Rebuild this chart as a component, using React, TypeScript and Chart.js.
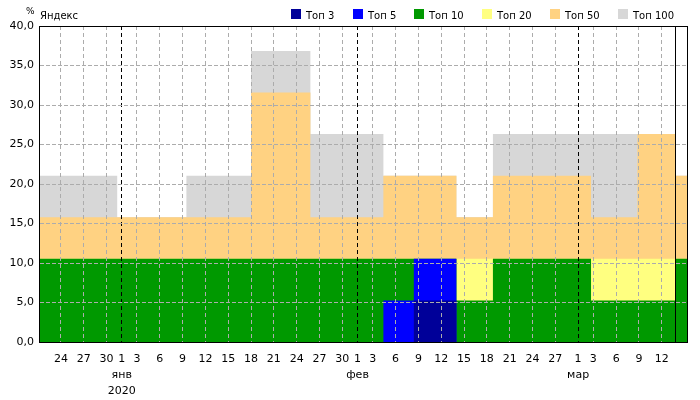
import React, { useEffect, useRef } from "react";
import { Chart, registerables } from "chart.js";

Chart.register(...registerables);

const FONT = "'DejaVu Sans', Verdana, sans-serif";

// ---- data -------------------------------------------------------------
const seriesNames = ["Топ 3", "Топ 5", "Топ 10", "Топ 20", "Топ 50", "Топ 100"];
const seriesColors = ["#000099", "#0000ff", "#009900", "#ffff80", "#ffd282", "#d7d7d7"];

// period boundaries, in days from 1 Jan 2020
const periodBounds = [-10.75, -0.6, 8.5, 17.0, 24.8, 34.4, 38.4, 44.0, 48.8, 61.7, 67.8, 72.8, 74.45];

// cumulative share of queries (%) per period
const top3 = [0, 0, 0, 0, 0, 0, 5.26, 0, 0, 0, 0, 0];
const top5 = [0, 0, 0, 0, 0, 5.26, 10.53, 0, 0, 0, 0, 0];
const top10 = [10.53, 10.53, 10.53, 10.53, 10.53, 10.53, 10.53, 5.26, 10.53, 5.26, 5.26, 10.53];
const top20 = [10.53, 10.53, 10.53, 10.53, 10.53, 10.53, 10.53, 10.53, 10.53, 10.53, 10.53, 10.53];
const top50 = [15.79, 15.79, 15.79, 31.58, 15.79, 21.05, 21.05, 15.79, 21.05, 15.79, 26.32, 21.05];
const top100 = [21.05, 15.79, 21.05, 36.84, 26.32, 21.05, 21.05, 15.79, 26.32, 26.32, 26.32, 21.05];

const xMin = -10.75;
const xMax = 74.45;
const tickDays = [-8, -5, -2, 0, 2, 5, 8, 11, 14, 17, 20, 23, 26, 29, 31, 33, 36, 39, 42, 45, 48, 51, 54, 57, 60, 62, 65, 68, 71];
const tickLabels: (string | string[])[] = [
  "24", "27", "30", ["1", "янв", "2020"], "3", "6", "9", "12", "15", "18", "21", "24", "27", "30",
  ["1", "фев"], "3", "6", "9", "12", "15", "18", "21", "24", "27",
  ["1", "мар"], "3", "6", "9", "12",
];
const monthStartDays = [0, 31, 60];
const markerDay = 72.8;

const yMin = 0;
const yMax = 40;
const yStep = 5;

const yAxisUnit = "%";
const engineName = "Яндекс";

// ---- helpers ------------------------------------------------------------
function stepPoints(values: number[]) {
  const pts: { x: number; y: number }[] = [];
  values.forEach((v, i) => {
    pts.push({ x: periodBounds[i], y: v });
    pts.push({ x: periodBounds[i + 1], y: v });
  });
  return pts;
}

const allSeries = [top3, top5, top10, top20, top50, top100];

const decorPlugin = {
  id: "decor",
  afterDraw(chart: any) {
    const { ctx, chartArea: a, scales } = chart;
    ctx.save();
    ctx.setLineDash([]);
    ctx.strokeStyle = "#000";
    ctx.lineWidth = 1;
    // marker line
    const mx = Math.round(scales.x.getPixelForValue(markerDay)) + 0.5;
    ctx.beginPath();
    ctx.moveTo(mx, a.top);
    ctx.lineTo(mx, a.bottom);
    ctx.stroke();
    // frame
    ctx.strokeRect(a.left - 0.5, a.top + 0.5, a.right - a.left, a.bottom - a.top);

    // unit + engine name
    ctx.fillStyle = "#000";
    ctx.textBaseline = "alphabetic";
    ctx.font = `9px ${FONT}`;
    ctx.textAlign = "right";
    ctx.fillText(yAxisUnit, a.left - 5.5, 14);
    ctx.font = `10px ${FONT}`;
    ctx.textAlign = "left";
    ctx.fillText(engineName, a.left, 19);

    // legend (right aligned)
    const box = 10;
    const gap = 5;
    const spacing = 18.2;
    const widths = seriesNames.map((n) => ctx.measureText(n).width);
    const total = widths.reduce((s, w) => s + box + gap + w, 0) + spacing * (seriesNames.length - 1);
    let x = 674 - total;
    seriesNames.forEach((n, i) => {
      ctx.fillStyle = seriesColors[i];
      ctx.fillRect(Math.round(x), 9, box, box);
      ctx.fillStyle = "#000";
      ctx.fillText(n, Math.round(x) + box + gap, 19);
      x += box + gap + widths[i] + spacing;
    });
    ctx.restore();
  },
};

export default function App() {
  const canvasRef = useRef<HTMLCanvasElement | null>(null);

  useEffect(() => {
    document.body.style.margin = "0";
    const canvas = canvasRef.current;
    if (!canvas) return;
    const chart = new Chart(canvas, {
      type: "line",
      data: {
        datasets: allSeries.map((vals, i) => ({
          label: seriesNames[i],
          data: stepPoints(vals),
          backgroundColor: seriesColors[i],
          borderColor: "rgba(0,0,0,0)",
          borderWidth: 0,
          pointRadius: 0,
          tension: 0,
          fill: "origin",
        })),
      },
      options: {
        animation: false,
        responsive: true,
        maintainAspectRatio: false,
        events: [],
        layout: { padding: { left: 0, right: 12, top: 26, bottom: 0 } },
        plugins: {
          legend: { display: false },
          tooltip: { enabled: false },
          title: { display: false },
        },
        scales: {
          x: {
            type: "linear",
            min: xMin,
            max: xMax,
            afterBuildTicks: (axis: any) => {
              axis.ticks = tickDays.map((v) => ({ value: v }));
            },
            afterFit: (scale: any) => {
              scale.height = 58;
            },
            ticks: {
              autoSkip: false,
              maxRotation: 0,
              minRotation: 0,
              padding: 9,
              color: "#000",
              font: { family: FONT, size: 11, lineHeight: "16px" },
              callback: (_v: any, i: number) => tickLabels[i],
            },
            grid: {
              z: 1,
              drawTicks: false,
              lineWidth: 1,
              color: (c: any) =>
                c.tick && monthStartDays.includes(c.tick.value) ? "#000000" : "#acacac",
            },
            border: { display: false, dash: [4, 3] },
          },
          y: {
            type: "linear",
            min: yMin,
            max: yMax,
            afterFit: (scale: any) => {
              scale.width = 40;
            },
            ticks: {
              stepSize: yStep,
              padding: 6,
              color: "#000",
              font: { family: FONT, size: 11 },
              callback: (v: any) => Number(v).toFixed(1).replace(".", ","),
            },
            grid: {
              z: 1,
              drawTicks: false,
              lineWidth: 1,
              color: "#acacac",
            },
            border: { display: false, dash: [4, 2] },
          },
        },
      },
      plugins: [decorPlugin],
    });
    return () => chart.destroy();
  }, []);

  return (
    <div style={{ position: "fixed", left: 0, top: 0, width: 700, height: 400, background: "#fff" }}>
      <canvas ref={canvasRef} />
    </div>
  );
}
